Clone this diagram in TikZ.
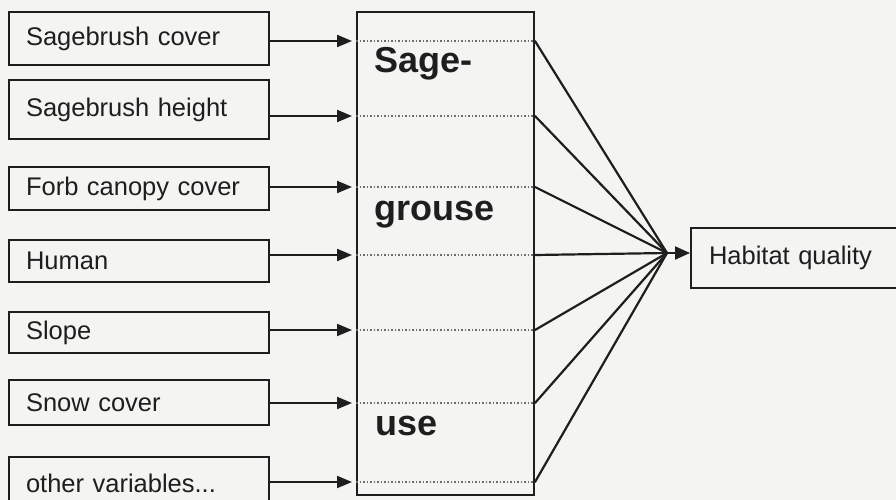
\documentclass[tikz,border=0pt]{standalone}
\usepackage{fontspec}
\setmainfont{Liberation Sans}
\usetikzlibrary{arrows.meta}
\definecolor{ink}{HTML}{1E1E1E}
\definecolor{bg}{HTML}{F4F4F2}
\begin{document}
\begin{tikzpicture}[x=1pt,y=-1pt,
  varbox/.style={draw=ink, line width=2pt, text=ink, font=\fontsize{25.5}{27}\selectfont,
    text width=226pt, inner xsep=17pt, inner ysep=0pt, align=left, anchor=center},
  bigword/.style={text=ink, font=\fontsize{36}{38}\selectfont\bfseries, anchor=base west, inner sep=0pt},
  feed/.style={draw=ink, line width=2pt, -{Triangle[length=15pt,width=12pt]}, shorten >=4pt},
  fan/.style={draw=ink, line width=2.2pt},
  dots/.style={draw=ink!65, line width=1.1pt, dash pattern=on 1.5pt off 2pt}
]
\path[use as bounding box, fill=bg] (0,0) rectangle (896,500);
\clip (0,0) rectangle (896,500);

% left variable boxes
\node[varbox, minimum height=53pt] (b1) at (139,38.5) {Sagebrush cover};
\node[varbox, minimum height=59pt] (b2) at (139,109.5) {Sagebrush height};
\node[varbox, minimum height=43pt] (b3) at (139,188.5) {Forb canopy cover};
\node[varbox, minimum height=42pt] (b4) at (139,261) {Human};
\node[varbox, minimum height=41pt] (b5) at (139,332.5) {Slope};
\node[varbox, minimum height=45pt] (b6) at (139,402.5) {Snow cover};
\node[varbox, minimum height=52pt] (b7) at (139,483) {other variables...};

% central box
\node[draw=ink, line width=2pt, minimum width=177pt, minimum height=483pt, inner sep=0pt] (sg) at (445.5,253.5) {};
\node[bigword] (w1) at (374,73) {Sage-};
\node[bigword] (w2) at (374,220) {grouse};
\node[bigword] (w3) at (375,435) {use};

% entry / exit points on the central box
\foreach \i/\y in {1/41,2/116,3/187,4/255,5/330,6/403,7/482}{
  \coordinate (p\i) at (sg.west |- 0,\y);
  \coordinate (q\i) at (sg.east |- 0,\y);
}

% hub and output box
\coordinate (hub) at (667,253);
\node[draw=ink, line width=2pt, text=ink, font=\fontsize{25.5}{27}\selectfont,
  minimum width=220pt, minimum height=60pt, anchor=west, inner xsep=18pt, text width=184pt, align=left] (hq) at (690,258) {Habitat quality};

\foreach \i in {1,...,7}{
  \draw[feed] (b\i.east |- p\i) -- (p\i);
  \draw[dots] (p\i) -- (q\i);
  \draw[fan] (q\i) -- (hub);
}
\draw[ink, line width=2pt, -{Triangle[length=15pt,width=13pt]}] (hub) -- (hq.west |- hub);
\end{tikzpicture}
\end{document}
